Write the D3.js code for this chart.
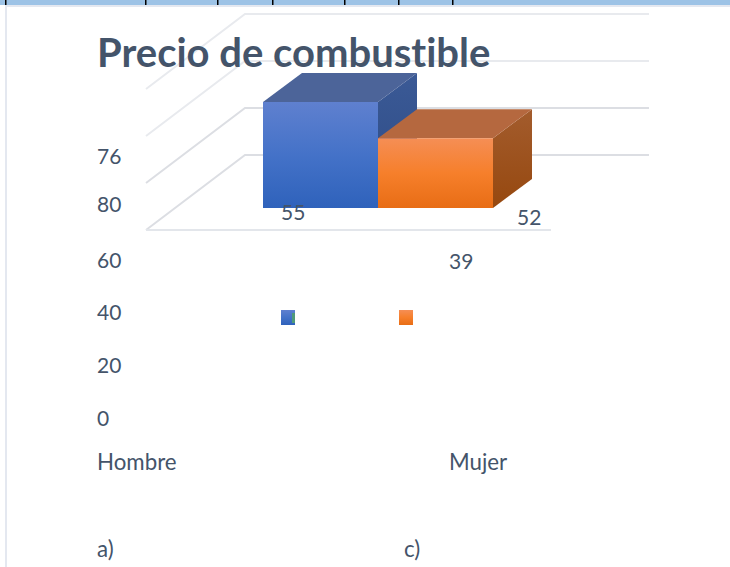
<!DOCTYPE html>
<html>
<head>
<meta charset="utf-8">
<style>
  html, body { margin: 0; padding: 0; background: #fff; overflow: hidden; }
  text { font-family: Lato, "Open Sans", sans-serif; fill: #44546a; font-variant-ligatures: none; }
</style>
<script src="https://cdn.jsdelivr.net/npm/d3@7"></script>
</head>
<body>
<svg id="chart" width="730" height="567"></svg>
<script>
// Data
const categories = ['Hombre', 'Mujer'];
const barValues = [76, 50];
const gridValues = [0, 20, 40, 60];
const tickLabels = ['80', '60', '40', '20', '0'];
const dataLabels = ['76', '55', '52', '39'];
const answerLabels = ['a)', 'c)'];
const headerTicks = [6, 146, 218, 273, 345, 399, 453];

const svg = d3.select('#chart');
const depth = { x: 39, y: -29 },
    gridDepth = { x: 99, y: -75 };

const xScale = d3.scaleBand().domain(categories).range([263, 493]),
    yScale = d3.scaleLinear().domain([0, 76]).range([208, 102]),
    gridScale = d3.scaleLinear().domain([0, 60]).range([230, 89]);

const line = d3.line();

/**
 * Gradients for the faces of the bars.
 */
const defs = svg.append('defs');
function gradient(id, stops, x2, y2) {
    const g = defs.append('linearGradient').attr('id', id)
        .attr('x1', 0).attr('y1', 0).attr('x2', x2).attr('y2', y2);
    stops.forEach((c, i) => g.append('stop')
        .attr('offset', i / (stops.length - 1)).attr('stop-color', c));
}
gradient('blue-front', ['#5f80cf', '#4472c8', '#2f62bb'], 0, 1);
gradient('blue-side', ['#3b5a96', '#2c4a85'], 0, 1);
gradient('orange-front', ['#f58e55', '#f67f2b', '#e86d15'], 0, 1);
gradient('orange-side', ['#a35c2d', '#96480f'], 0, 1);
const faces = [
    { front: 'url(#blue-front)', top: '#4c6499', side: 'url(#blue-side)', legend: 'url(#blue-front)' },
    { front: 'url(#orange-front)', top: '#b5683f', side: 'url(#orange-side)', legend: 'url(#orange-front)' }
];

/**
 * Page furniture around the chart.
 */
svg.append('rect').attr('x', 0).attr('y', 0).attr('width', 730).attr('height', 5).attr('fill', '#9dc3e6');
svg.append('rect').attr('x', 5).attr('y', 5).attr('width', 725).attr('height', 2).attr('fill', '#e4e8f0');
svg.append('rect').attr('x', 5).attr('y', 5).attr('width', 2).attr('height', 562).attr('fill', '#e4e8f0');
svg.selectAll('.header-tick').data(headerTicks).join('rect')
    .attr('class', 'header-tick')
    .attr('x', d => d - 1).attr('y', 0).attr('width', 1.5).attr('height', 5).attr('fill', '#000');

/**
 * Grid: walls and floor.
 */
const grid = svg.append('g').attr('fill', 'none').attr('stroke-width', 2);
grid.selectAll('path').data(gridValues).join('path')
    .attr('stroke', (d, i) => (i < 2 ? '#dcdee3' : '#e8eaee'))
    .attr('d', d => {
        const y = gridScale(d);
        return line([[146, y], [146 + gridDepth.x, y + gridDepth.y], [649, y + gridDepth.y]]);
    });
grid.append('path')
    .attr('stroke', '#e3e6eb')
    .attr('d', line([[146, gridScale(0)], [551, gridScale(0)]]));

/**
 * Bars: back one first.
 */
const bars = svg.selectAll('.bar').data(categories).join('g').attr('class', 'bar');
bars.each(function(c, i) {
    const g = d3.select(this),
        x0 = xScale(c),
        x1 = x0 + xScale.bandwidth(),
        y0 = yScale(barValues[i]),
        y1 = yScale(0),
        f = faces[i];
    g.append('path').attr('fill', f.side).attr('d', line([
        [x1, y0], [x1 + depth.x, y0 + depth.y], [x1 + depth.x, y1 + depth.y], [x1, y1]
    ]) + 'Z');
    g.append('path').attr('fill', f.top).attr('d', line([
        [x0, y0], [x0 + depth.x, y0 + depth.y], [x1 + depth.x, y0 + depth.y], [x1, y0]
    ]) + 'Z');
    g.append('rect').attr('fill', f.front)
        .attr('x', x0).attr('y', y0)
        .attr('width', xScale.bandwidth()).attr('height', y1 - y0);
});

/**
 * Legend keys.
 */
const legendX = [281, 399];
svg.selectAll('.key').data(categories).join('rect')
    .attr('class', 'key')
    .attr('x', (d, i) => legendX[i]).attr('y', 310)
    .attr('width', 14).attr('height', 15)
    .attr('fill', (d, i) => faces[i].legend);
svg.append('rect').attr('x', 292).attr('y', 313).attr('width', 3).attr('height', 10).attr('fill', '#4f9a7a');

/**
 * Text.
 */
svg.append('text').attr('x', 97).attr('y', 67)
    .attr('font-size', 40).attr('font-weight', 700)
    .text('Precio de combustible');

const tickY = [212, 268, 320, 373, 426];
svg.selectAll('.tick-label').data(tickLabels).join('text')
    .attr('class', 'tick-label')
    .attr('x', 97).attr('y', (d, i) => tickY[i])
    .attr('font-size', 21).text(d => d);

const labelPos = [[97, 164], [281, 220], [517, 225], [449, 269]];
svg.selectAll('.data-label').data(dataLabels).join('text')
    .attr('class', 'data-label')
    .attr('x', (d, i) => labelPos[i][0]).attr('y', (d, i) => labelPos[i][1])
    .attr('font-size', 21).text(d => d);

const categoryX = [97, 449];
svg.selectAll('.category').data(categories).join('text')
    .attr('class', 'category')
    .attr('x', (d, i) => categoryX[i]).attr('y', 470)
    .attr('font-size', 22.3).text(d => d);

const answerX = [97, 404];
svg.selectAll('.answer').data(answerLabels).join('text')
    .attr('class', 'answer')
    .attr('x', (d, i) => answerX[i]).attr('y', 557)
    .attr('font-size', 22.3).text(d => d);
</script>
</body>
</html>
